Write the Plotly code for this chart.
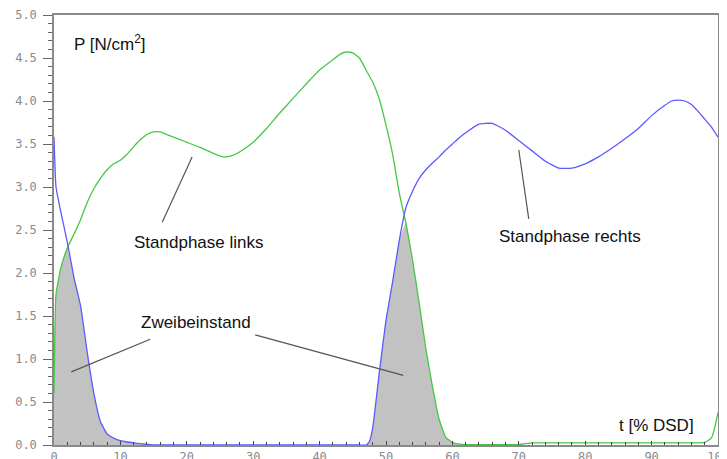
import numpy as np
import plotly.graph_objects as go

# Time axis (% of double step duration)
t = [0, 0.3, 1, 2, 3, 4, 5, 6, 7, 8, 9, 10, 11, 12, 13, 14, 15, 16, 17, 18, 19, 20,
     22, 24, 25, 26, 27, 28, 30, 32, 34, 36, 38, 40, 42, 43, 44, 45, 46, 47, 47.5,
     48, 49, 50, 51, 52, 53, 54, 55, 56, 57, 58, 59, 60, 61, 62, 64, 66, 68, 70,
     72, 74, 76, 78, 80, 82, 84, 86, 88, 90, 92, 93, 94, 95, 96, 97, 98, 99, 99.5, 100]

# Standphase links (green)
p_links = [0.6, 1.75, 2.05, 2.29, 2.45, 2.62, 2.82, 2.98, 3.1, 3.2, 3.27, 3.31, 3.38, 3.47,
           3.55, 3.61, 3.64, 3.64, 3.61, 3.58, 3.55, 3.52,
           3.46, 3.39, 3.36, 3.35, 3.37, 3.41, 3.52, 3.68, 3.86, 4.03, 4.2, 4.36, 4.48,
           4.54, 4.57, 4.56, 4.5, 4.36, 4.29,
           4.22, 4.02, 3.72, 3.38, 2.93, 2.58, 2.15, 1.65, 1.12, 0.68, 0.3, 0.09, 0.03,
           0.01, 0.005, 0.005, 0.005, 0.005, 0.005,
           0.025, 0.025, 0.025, 0.025, 0.025, 0.025, 0.025, 0.025, 0.025, 0.025, 0.025,
           0.025, 0.025, 0.025, 0.025, 0.025, 0.03, 0.08, 0.2, 0.38]

# Standphase rechts (blue)
p_rechts = [3.58, 3.0, 2.72, 2.36, 1.95, 1.62, 1.08, 0.6, 0.27, 0.13, 0.08, 0.05, 0.035, 0.025,
            0.015, 0.008, 0, 0, 0, 0, 0, 0,
            0, 0, 0, 0, 0, 0, 0, 0, 0, 0, 0, 0, 0, 0, 0, 0, 0, 0, 0.04,
            0.2, 0.85, 1.45, 1.9, 2.38, 2.76, 2.95, 3.1, 3.2, 3.28, 3.35, 3.43, 3.5,
            3.57, 3.63, 3.73, 3.74, 3.66, 3.54,
            3.42, 3.3, 3.22, 3.22, 3.27, 3.35, 3.45, 3.56, 3.68, 3.83, 3.95, 4.0, 4.01,
            4.0, 3.96, 3.88, 3.79, 3.7, 3.64, 3.58]

y_ticks = [0, 0.5, 1.0, 1.5, 2.0, 2.5, 3.0, 3.5, 4.0, 4.5, 5.0]
x_ticks = [0, 10, 20, 30, 40, 50, 60, 70, 80, 90, 100]

ta = np.array(t)
both = np.minimum(np.array(p_links), np.array(p_rechts))
mask = ta <= 66

fig = go.Figure()
fig.add_trace(go.Scatter(x=ta[mask], y=both[mask], mode="lines", fill="tozeroy",
                         fillcolor="#c2c2c2", line=dict(width=0, shape="spline", smoothing=0.4),
                         hoverinfo="skip", showlegend=False))
fig.add_trace(go.Scatter(x=t, y=p_links, mode="lines", name="Standphase links",
                         line=dict(color="#46c846", width=1.3, shape="spline", smoothing=0.4),
                         showlegend=False))
fig.add_trace(go.Scatter(x=t, y=p_rechts, mode="lines", name="Standphase rechts",
                         line=dict(color="#5a5aff", width=1.3, shape="spline", smoothing=0.4),
                         showlegend=False))

txt_font = dict(family="Liberation Sans, Arial, sans-serif", size=17, color="#111111")

annotations = [
    dict(x=2.7, y=4.67, text="P [N/cm<sup>2</sup>]", xanchor="left"),
    dict(x=21.7, y=2.35, text="Standphase links"),
    dict(x=21.4, y=1.43, text="Zweibeinstand"),
    dict(x=77.7, y=2.42, text="Standphase rechts"),
    dict(x=90.7, y=0.23, text="t [% DSD]"),
]
for a in annotations:
    a.update(xref="x", yref="y", showarrow=False, font=txt_font, yanchor="middle")
    a.setdefault("xanchor", "center")

pointer_lines = [
    (16.3, 2.59, 20.8, 3.35),
    (14.5, 1.23, 2.6, 0.85),
    (30.3, 1.28, 52.6, 0.81),
    (71.5, 2.63, 70.0, 3.43),
]
shapes = [dict(type="line", xref="x", yref="y", x0=a, y0=b, x1=c, y1=d,
               line=dict(color="#555555", width=1.2)) for a, b, c, d in pointer_lines]

tick_font = dict(family="DejaVu Sans Mono, monospace", size=12, color="#8a8a8a")

# the page body adds an 8px offset; margins compensate so the plot area
# lands at x 54-718, y 15-445 in the window
fig.update_layout(
    width=727, height=459,
    margin=dict(l=46, r=17, t=7, b=22),
    paper_bgcolor="white", plot_bgcolor="white",
    annotations=annotations, shapes=shapes,
    xaxis=dict(range=[0, 100], tickvals=x_ticks, ticktext=[str(v) for v in x_ticks],
               automargin=False,
               ticks="inside", ticklen=4, tickcolor="#444", showgrid=False, zeroline=False,
               showline=True, linecolor="#8a8a8a", linewidth=1.5, mirror=True,
               tickfont=tick_font,
               minor=dict(dtick=2, ticks="inside", ticklen=3, tickcolor="#444", showgrid=False)),
    yaxis=dict(range=[0, 5], tickvals=y_ticks, ticktext=[f"{v:.1f}" for v in y_ticks],
               automargin=False,
               ticks="outside", ticklen=9, tickcolor="#666", showgrid=False, zeroline=False,
               showline=True, linecolor="#8a8a8a", linewidth=1.5, mirror=True,
               tickfont=tick_font, ticklabelstandoff=4,
               minor=dict(dtick=0.1, ticks="outside", ticklen=4, tickcolor="#666", showgrid=False)),
)

fig.write_html("out.html")
